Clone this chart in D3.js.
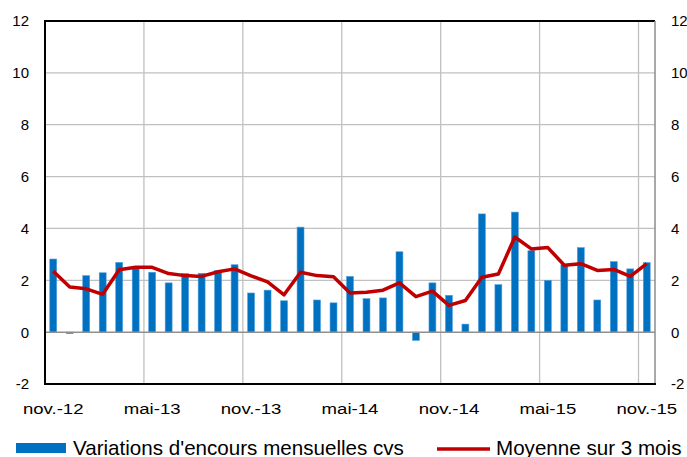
<!DOCTYPE html>
<html>
  <head>
    <meta charset="utf-8">
    <title>Variations d'encours</title>
    <script type="text/javascript" src="https://d3js.org/d3.v7.min.js"></script>
    <style>
      body { margin: 0; background: #fff; }
      svg { display: block; font-family: "Liberation Sans", Arial, sans-serif; }
      .ylab { font-size: 15px; fill: #000; }
      .xlab { font-size: 15px; fill: #000; }
      .legend { font-size: 20.6px; fill: #000; }
    </style>
  </head>
  <body>
    <div id="chart"></div>
    <script type="text/javascript">
        // months nov.-12 .. nov.-15
        var months = ['nov.-12','déc.-12','janv.-13','févr.-13','mars-13','avr.-13',
          'mai-13','juin-13','juil.-13','août-13','sept.-13','oct.-13',
          'nov.-13','déc.-13','janv.-14','févr.-14','mars-14','avr.-14',
          'mai-14','juin-14','juil.-14','août-14','sept.-14','oct.-14',
          'nov.-14','déc.-14','janv.-15','févr.-15','mars-15','avr.-15',
          'mai-15','juin-15','juil.-15','août-15','sept.-15','oct.-15','nov.-15'];

        var variations = [2.82, -0.06, 2.18, 2.29, 2.69, 2.47, 2.31, 1.90, 2.26, 2.27, 2.37, 2.60,
          1.51, 1.62, 1.21, 4.05, 1.24, 1.13, 2.15, 1.29, 1.32, 3.10, -0.32, 1.90,
          1.42, 0.31, 4.56, 1.83, 4.63, 3.14, 2.00, 2.60, 3.26, 1.24, 2.72, 2.44, 2.68];

        var moyenne = [2.35, 1.74, 1.67, 1.46, 2.41, 2.50, 2.50, 2.26, 2.18, 2.15, 2.33, 2.44,
          2.17, 1.94, 1.44, 2.31, 2.18, 2.14, 1.51, 1.54, 1.62, 1.90, 1.37, 1.58,
          1.03, 1.22, 2.12, 2.24, 3.67, 3.21, 3.26, 2.58, 2.64, 2.38, 2.42, 2.15, 2.64];

        var xTickLabels = ['nov.-12','mai-13','nov.-13','mai-14','nov.-14','mai-15','nov.-15'];
        var yTicks = [-2, 0, 2, 4, 6, 8, 10, 12];

        var width = 687;
        var height = 457;
        var plotLeft = 45, plotRight = 655, plotTop = 21, plotBottom = 384;

        var svg = d3.select('#chart')
          .append('svg')
          .attr('width', width)
          .attr('height', height);

        var x = d3.scaleBand()
          .domain(months)
          .range([plotLeft, plotRight])
          .paddingInner(0.58)
          .paddingOuter(0.29);

        var y = d3.scaleLinear()
          .domain([-2, 12])
          .range([plotBottom, plotTop]);

        var step = x.step();
        var center = function(m) { return x(m) + x.bandwidth() / 2; };

        // horizontal gridlines
        svg.selectAll('.hgrid')
          .data(yTicks.filter(function(d) { return d > -2 && d < 12 && d != 0; }))
          .enter()
          .append('line')
          .attr('x1', plotLeft).attr('x2', plotRight)
          .attr('y1', function(d) { return y(d); })
          .attr('y2', function(d) { return y(d); })
          .attr('stroke', '#c0c0c0')
          .attr('stroke-width', 1.3);

        // vertical gridlines at the labelled months
        svg.selectAll('.vgrid')
          .data(xTickLabels.slice(1))
          .enter()
          .append('line')
          .attr('x1', function(d) { return center(d) - step / 2; })
          .attr('x2', function(d) { return center(d) - step / 2; })
          .attr('y1', plotTop).attr('y2', plotBottom)
          .attr('stroke', '#c0c0c0')
          .attr('stroke-width', 1.3);

        // bars
        svg.selectAll('.bar')
          .data(variations)
          .enter()
          .append('rect')
          .attr('x', function(d, i) { return x(months[i]); })
          .attr('width', x.bandwidth())
          .attr('y', function(d) { return y(Math.max(0, d)); })
          .attr('height', function(d) { return Math.abs(y(d) - y(0)); })
          .attr('fill', '#0070c0')
          .attr('stroke', '#4f9fdc')
          .attr('stroke-width', 0.6);

        // zero line
        svg.append('line')
          .attr('x1', plotLeft).attr('x2', plotRight)
          .attr('y1', y(0)).attr('y2', y(0))
          .attr('stroke', '#909090')
          .attr('stroke-width', 1.5);

        // 3 month average
        var line = d3.line()
          .x(function(d, i) { return center(months[i]); })
          .y(function(d) { return y(d); });

        svg.append('path')
          .datum(moyenne)
          .attr('d', line)
          .attr('fill', 'none')
          .attr('stroke', '#c00000')
          .attr('stroke-width', 3.5)
          .attr('stroke-linejoin', 'round');

        // frame
        svg.append('line').attr('x1', plotLeft).attr('x2', plotRight).attr('y1', plotTop).attr('y2', plotTop)
          .attr('stroke', '#000').attr('stroke-width', 2);
        svg.append('line').attr('x1', plotRight).attr('x2', plotRight).attr('y1', plotTop).attr('y2', plotBottom)
          .attr('stroke', '#8c8c8c').attr('stroke-width', 1.5);
        svg.append('line').attr('x1', plotLeft).attr('x2', plotLeft).attr('y1', plotTop - 1).attr('y2', plotBottom + 1)
          .attr('stroke', '#000').attr('stroke-width', 2);
        svg.append('line').attr('x1', plotLeft).attr('x2', plotRight + 1).attr('y1', plotBottom).attr('y2', plotBottom)
          .attr('stroke', '#000').attr('stroke-width', 2);

        // y labels, both sides
        svg.selectAll('.ylab-l')
          .data(yTicks)
          .enter()
          .append('text')
          .attr('class', 'ylab')
          .attr('x', 29)
          .attr('y', function(d) { return y(d); })
          .attr('dy', '0.36em')
          .attr('text-anchor', 'end')
          .text(function(d) { return d; });

        svg.selectAll('.ylab-r')
          .data(yTicks)
          .enter()
          .append('text')
          .attr('class', 'ylab')
          .attr('x', 671)
          .attr('y', function(d) { return y(d); })
          .attr('dy', '0.36em')
          .attr('text-anchor', 'start')
          .text(function(d) { return d; });

        // x labels (a bit stretched, as in the original)
        svg.selectAll('.xlab')
          .data(xTickLabels)
          .enter()
          .append('text')
          .attr('class', 'xlab')
          .attr('transform', function(d) { return 'translate(' + center(d) + ',414) scale(1.24,1)'; })
          .attr('text-anchor', 'middle')
          .text(function(d) { return d; });

        // legend
        var legend = svg.append('g');
        legend.append('rect')
          .attr('x', 16).attr('y', 443)
          .attr('width', 50).attr('height', 10)
          .attr('fill', '#0070c0');
        legend.append('text')
          .attr('class', 'legend')
          .attr('x', 73).attr('y', 455)
          .text("Variations d'encours mensuelles cvs");
        legend.append('line')
          .attr('x1', 437).attr('x2', 490)
          .attr('y1', 449).attr('y2', 449)
          .attr('stroke', '#c00000')
          .attr('stroke-width', 3.5);
        legend.append('text')
          .attr('class', 'legend')
          .attr('x', 496).attr('y', 455)
          .text('Moyenne sur 3 mois');
    </script>
  </body>
</html>
